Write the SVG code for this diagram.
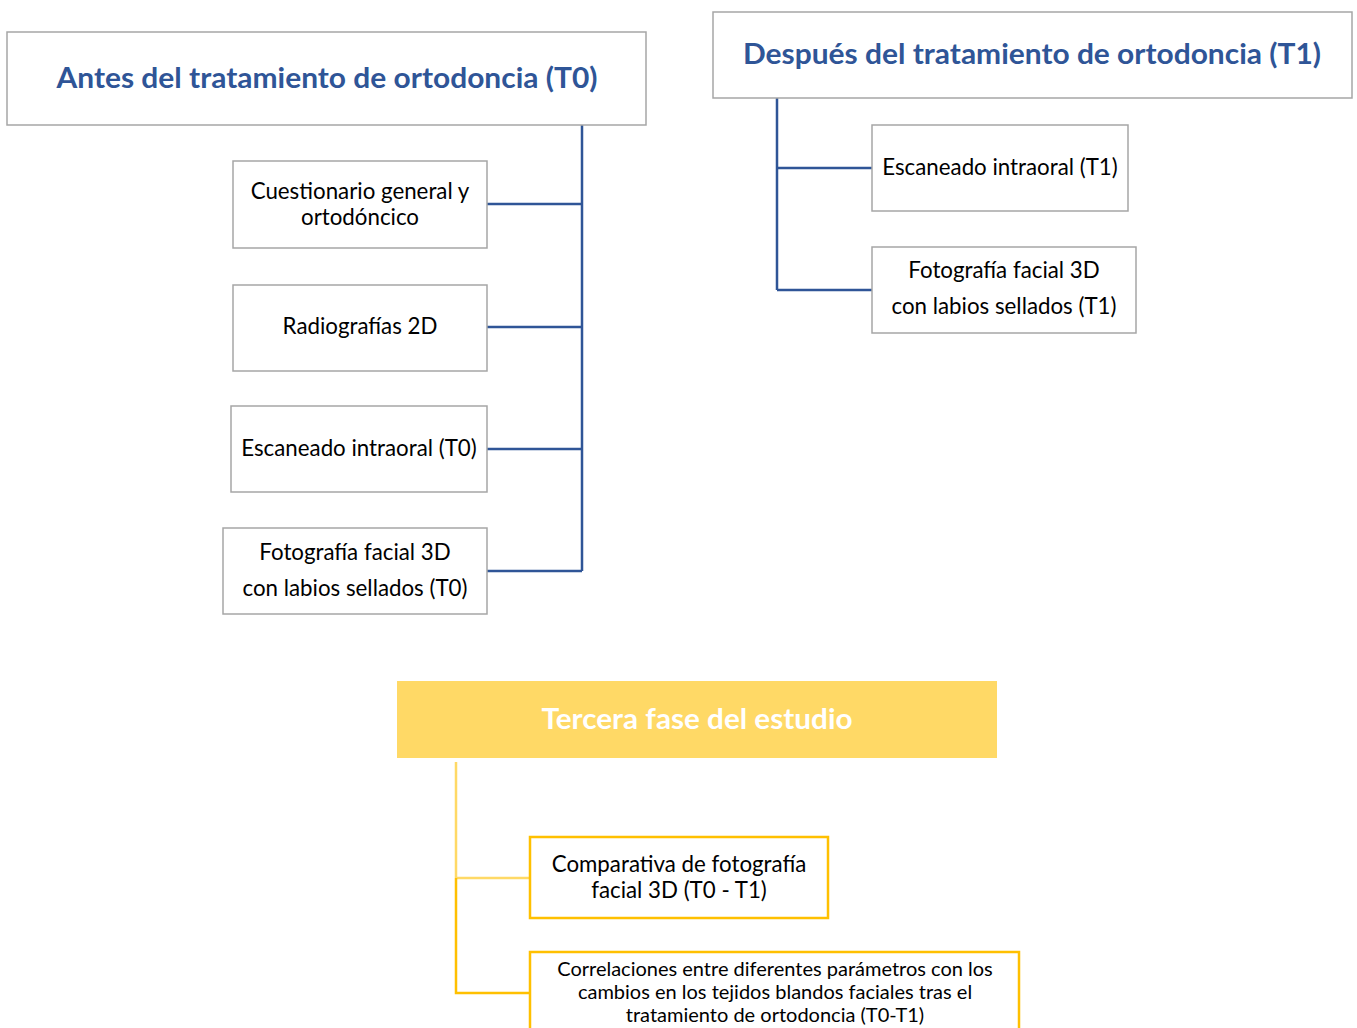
<svg xmlns="http://www.w3.org/2000/svg" width="1357" height="1028" viewBox="0 0 1357 1028">
<style>
.hd{fill:#fff;stroke:#a6a6a6;stroke-width:1.5}
.bx{fill:#fff;stroke:#a6a6a6;stroke-width:1.5}
.yb{fill:#fff;stroke:#ffc000;stroke-width:2.5}
.ht{font-family:Lato,"Liberation Sans",sans-serif;font-weight:bold;font-size:28px;fill:#2f5597;text-anchor:middle}
.t{font-family:Lato,"Liberation Sans",sans-serif;font-size:22.3px;fill:#000;text-anchor:middle}
.ts{font-family:Lato,"Liberation Sans",sans-serif;font-size:20px;fill:#000;text-anchor:middle}
.bl{stroke:#2f5597;stroke-width:2.5;fill:none}
.yl{stroke:#ffd966;stroke-width:2.5;fill:none}
.yd{stroke:#ffc000;stroke-width:2.5;fill:none}
</style>
<rect width="1357" height="1028" fill="#fff"/>
<g id="connectors">
<path class="bl" d="M582 125V571M487 204H582M487 327H582M487 449H582M487 571H582"/>
<path class="bl" d="M777 98V290M777 168H872M777 290H872"/>
<path class="yl" d="M456 762V878M456 878H530"/>
<path class="yd" d="M456 878V993H530"/>
</g>
<g id="t0">
<rect class="hd" x="7" y="32" width="639" height="93"/>
<text class="ht" x="327" y="88" textLength="541" lengthAdjust="spacingAndGlyphs">Antes del tratamiento de ortodoncia (T0)</text>
</g>
<g id="cuestionario">
<rect class="bx" x="233" y="161" width="254" height="87"/>
<text class="t" x="360" y="199">Cuestionario general y</text>
<text class="t" x="360" y="225">ortodóncico</text>
</g>
<g id="radiografias">
<rect class="bx" x="233" y="285" width="254" height="86"/>
<text class="t" x="360" y="334">Radiografías 2D</text>
</g>
<g id="escaneado-t0">
<rect class="bx" x="231" y="406" width="256" height="86"/>
<text class="t" x="359" y="456">Escaneado intraoral (T0)</text>
</g>
<g id="foto-t0">
<rect class="bx" x="223" y="528" width="264" height="86"/>
<text class="t" x="355" y="560">Fotografía facial 3D</text>
<text class="t" x="355" y="596">con labios sellados (T0)</text>
</g>
<g id="t1">
<rect class="hd" x="713" y="12" width="639" height="86"/>
<text class="ht" x="1032" y="64" textLength="578" lengthAdjust="spacingAndGlyphs">Después del tratamiento de ortodoncia (T1)</text>
</g>
<g id="escaneado-t1">
<rect class="bx" x="872" y="125" width="256" height="86"/>
<text class="t" x="1000" y="175">Escaneado intraoral (T1)</text>
</g>
<g id="foto-t1">
<rect class="bx" x="872" y="247" width="264" height="86"/>
<text class="t" x="1004" y="278">Fotografía facial 3D</text>
<text class="t" x="1004" y="314">con labios sellados (T1)</text>
</g>
<g id="tercera">
<rect x="397" y="681" width="600" height="77" fill="#ffd966"/>
<text class="ht" x="697" y="729" style="fill:#fff" textLength="311" lengthAdjust="spacingAndGlyphs">Tercera fase del estudio</text>
</g>
<g id="comparativa">
<rect class="yb" x="530" y="837" width="298" height="81"/>
<text class="t" x="679" y="872">Comparativa de fotografía</text>
<text class="t" x="679" y="898">facial 3D (T0 - T1)</text>
</g>
<g id="correlaciones">
<rect class="yb" x="530" y="952" width="489" height="90"/>
<text class="ts" x="775" y="976">Correlaciones entre diferentes parámetros con los</text>
<text class="ts" x="775" y="999">cambios en los tejidos blandos faciales tras el</text>
<text class="ts" x="775" y="1022">tratamiento de ortodoncia (T0-T1)</text>
</g>
</svg>
